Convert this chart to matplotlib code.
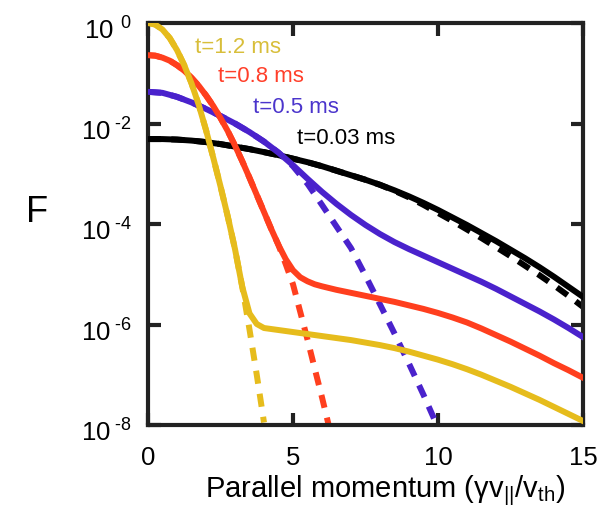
import numpy as np
import matplotlib
matplotlib.use("Agg")
import matplotlib.pyplot as plt
import matplotlib.transforms as mtransforms
from matplotlib.ticker import FixedLocator, FuncFormatter

plt.rcParams['font.family'] = ['Liberation Sans', 'DejaVu Sans']
plt.rcParams['mathtext.fontset'] = 'custom'
plt.rcParams['mathtext.rm'] = 'Liberation Sans'
plt.rcParams['mathtext.it'] = 'Liberation Sans'
plt.rcParams['mathtext.default'] = 'regular'

# ---- data (log10 F) ----
x_black = [0, 0.5, 1, 1.5, 2, 2.5, 3, 3.5, 4, 4.5, 5, 5.5, 6, 6.5, 7, 7.5, 8, 8.5, 9,
           9.5, 10, 10.5, 11, 11.5, 12, 12.5, 13, 13.5, 14, 14.5, 15]
logF_black = [-2.31, -2.31, -2.32, -2.34, -2.37, -2.41, -2.46, -2.51, -2.57, -2.63,
              -2.70, -2.77, -2.85, -2.94, -3.03, -3.12, -3.22, -3.33, -3.45, -3.58,
              -3.72, -3.87, -4.02, -4.18, -4.34, -4.51, -4.68, -4.86, -5.05, -5.25, -5.45]
logF_black_d = [-2.31, -2.31, -2.32, -2.34, -2.37, -2.41, -2.46, -2.51, -2.57, -2.63,
                -2.70, -2.77, -2.85, -2.94, -3.03, -3.12, -3.22, -3.34, -3.47, -3.62,
                -3.78, -3.94, -4.11, -4.28, -4.46, -4.64, -4.83, -5.02, -5.22, -5.43, -5.65]

x_blue = [0, 0.5, 1, 1.5, 2, 2.5, 3, 3.5, 4, 4.5, 5, 5.5, 6, 6.5, 7, 7.5, 8, 8.5, 9,
          9.5, 10, 10.5, 11, 11.5, 12, 12.5, 13, 13.5, 14, 14.5, 15]
logF_blue = [-1.37, -1.39, -1.47, -1.58, -1.71, -1.85, -2.00, -2.17, -2.36, -2.58,
             -2.83, -3.10, -3.36, -3.60, -3.82, -4.02, -4.20, -4.36, -4.50, -4.63,
             -4.76, -4.89, -5.02, -5.15, -5.29, -5.44, -5.59, -5.74, -5.90, -6.07, -6.25]
x_blue_d = [0, 0.5, 1, 1.5, 2, 2.5, 3, 3.5, 4, 4.5, 5, 5.5, 6, 6.5, 7, 7.5, 8, 8.5, 9,
            9.5, 10]
logF_blue_d = [-1.37, -1.39, -1.47, -1.58, -1.71, -1.85, -2.00, -2.17, -2.36, -2.58,
               -2.85, -3.20, -3.62, -4.05, -4.48, -5.03, -5.60, -6.18, -6.78, -7.40, -8.05]

x_red = [0, 0.25, 0.5, 0.75, 1, 1.25, 1.5, 1.75, 2, 2.25, 2.5, 2.75, 3, 3.25, 3.5, 3.75,
         4, 4.25, 4.5, 4.75, 5, 5.25, 5.5, 5.75, 6, 6.5, 7, 7.5, 8, 8.5, 9, 9.5, 10,
         10.5, 11, 11.5, 12, 12.5, 13, 13.5, 14, 14.5, 15]
logF_red = [-0.64, -0.65, -0.69, -0.75, -0.84, -0.95, -1.09, -1.25, -1.44, -1.65, -1.89,
            -2.15, -2.44, -2.75, -3.08, -3.42, -3.76, -4.10, -4.42, -4.70, -4.92, -5.06,
            -5.14, -5.20, -5.24, -5.31, -5.37, -5.43, -5.49, -5.55, -5.62, -5.69, -5.77,
            -5.86, -5.96, -6.08, -6.21, -6.34, -6.48, -6.62, -6.77, -6.91, -7.06]
x_red_d = [0, 0.25, 0.5, 0.75, 1, 1.25, 1.5, 1.75, 2, 2.25, 2.5, 2.75, 3, 3.25, 3.5,
           3.75, 4, 4.25, 4.5, 4.75, 5, 5.25, 5.5, 5.75, 6, 6.25]
logF_red_d = [-0.64, -0.65, -0.69, -0.75, -0.84, -0.95, -1.09, -1.25, -1.44, -1.65,
              -1.89, -2.15, -2.44, -2.75, -3.08, -3.42, -3.76, -4.10, -4.42, -4.80,
              -5.20, -5.75, -6.30, -6.88, -7.45, -8.05]

x_yel = [0, 0.25, 0.5, 0.75, 1, 1.25, 1.5, 1.75, 2, 2.25, 2.5, 2.75, 3, 3.25, 3.5, 3.75,
         4, 4.5, 5, 5.5, 6, 6.5, 7, 7.5, 8, 8.5, 9, 9.5, 10, 10.5, 11, 11.5, 12, 12.5,
         13, 13.5, 14, 14.5, 15]
logF_yel = [0.0, -0.03, -0.13, -0.30, -0.54, -0.84, -1.20, -1.63, -2.13, -2.68, -3.25,
            -3.85, -4.50, -5.25, -5.78, -5.99, -6.07, -6.11, -6.15, -6.19, -6.23, -6.27,
            -6.31, -6.36, -6.41, -6.47, -6.54, -6.62, -6.70, -6.79, -6.89, -7.00, -7.12,
            -7.24, -7.37, -7.50, -7.64, -7.78, -7.92]
x_yel_d = [0, 0.25, 0.5, 0.75, 1, 1.25, 1.5, 1.75, 2, 2.25, 2.5, 2.75, 3, 3.25, 3.5,
           3.75, 4.0]
logF_yel_d = [0.0, -0.03, -0.13, -0.30, -0.54, -0.84, -1.20, -1.63, -2.13, -2.68, -3.25,
              -3.85, -4.50, -5.25, -6.10, -7.00, -7.95]

labels = ['t=1.2 ms', 't=0.8 ms', 't=0.5 ms', 't=0.03 ms']
label_x = [1.62, 2.41, 3.62, 5.14]
label_logy = [-0.48, -1.07, -1.69, -2.29]

xticks = [0, 5, 10, 15]
yticks_exp = [-8, -6, -4, -2, 0]

C_YEL = '#E6BC1C'
C_RED = '#FF3F1E'
C_BLUE = '#4A22CC'
C_BLK = '#000000'

fig = plt.figure(figsize=(6.06, 5.16), dpi=100)
ax = fig.add_axes([148/606, 1-425/516, (583-148)/606, (425-23)/516])

lw = 4.3
dash = (2.2, 1.7)
p = lambda v: 10.0 ** np.asarray(v)

ax.plot(x_black, p(logF_black_d), color=C_BLK, lw=lw, dashes=dash, zorder=2)
ax.plot(x_black, p(logF_black), color=C_BLK, lw=lw, zorder=3)
ax.plot(x_blue_d, p(logF_blue_d), color=C_BLUE, lw=lw, dashes=dash, zorder=2)
ax.plot(x_blue, p(logF_blue), color=C_BLUE, lw=lw, zorder=3)
ax.plot(x_red_d, p(logF_red_d), color=C_RED, lw=lw, dashes=dash, zorder=2)
ax.plot(x_red, p(logF_red), color=C_RED, lw=lw, zorder=3)
ax.plot(x_yel_d, p(logF_yel_d), color=C_YEL, lw=lw, dashes=dash, zorder=2)
ax.plot(x_yel, p(logF_yel), color=C_YEL, lw=lw, zorder=3)

text_colors = ['#D8BE3A', '#FF3F2A', '#4B35CC', '#000000']
for lab, lx, ly, c in zip(labels, label_x, label_logy, text_colors):
    ax.text(lx, 10.0 ** ly, lab, color=c, fontsize=16, ha='left', va='center')


def ytick_fmt(v, pos):
    e = int(round(np.log10(v)))
    if e < 0:
        return r'$10^{\; ' + '\u2010%d' % -e + '}$'
    return r'$10^{\enspace %d}$' % e


ax.set_yscale('log')
ax.set_xlim(0, 15)
ax.set_ylim(1e-8, 1e0)
ax.xaxis.set_major_locator(FixedLocator(xticks))
ax.yaxis.set_major_locator(FixedLocator([10.0 ** e for e in yticks_exp]))
ax.yaxis.set_minor_locator(FixedLocator([]))
ax.xaxis.set_major_formatter(FuncFormatter(lambda v, pos: '%d' % v))
ax.yaxis.set_major_formatter(FuncFormatter(ytick_fmt))

for s in ax.spines.values():
    s.set_linewidth(3.0)
    s.set_color('#222222')
ax.tick_params(which='major', direction='in', length=9, width=3, color='#222222',
               top=True, right=True, labelsize=18.5)
ax.tick_params(axis='x', pad=15)
ax.tick_params(axis='y', pad=12)

shift = mtransforms.ScaledTranslation(0, -4 / 72, fig.dpi_scale_trans)
for lbl in ax.get_yticklabels():
    lbl.set_transform(lbl.get_transform() + shift)

ax.set_xlabel(r'Parallel momentum ($\gamma$v$_{||}$/v$_{th}$)', fontsize=21)
ax.xaxis.set_label_coords((385-148)/435, (425-473)/402)
fig.text(37/606, 1-212/516, 'F', fontsize=26, ha='center', va='center')

fig.savefig('out.png', dpi=100)
